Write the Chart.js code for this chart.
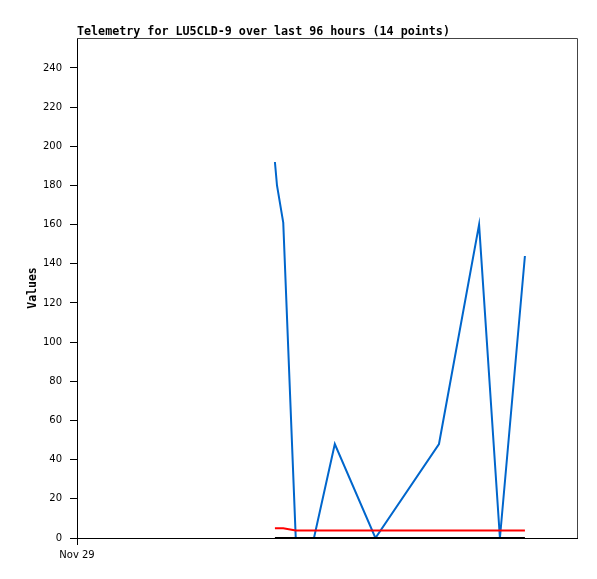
<!DOCTYPE html>
<html>
<head>
    <title>Telemetry</title>
    <style>
        body { margin: 0; background: #fff; }
        #wrap { width: 597px; height: 579px; }
    </style>
</head>
<body>
    <div id="wrap"><canvas id="telemetry" width="597" height="579"></canvas></div>

    <script src="https://cdn.jsdelivr.net/npm/chart.js@4.4.0/dist/chart.umd.min.js"></script>
    <script>
        // hours after Nov 29 00:00 for each sample
        const hours = [38.0, 38.4, 39.6, 42.0, 45.5, 49.5, 57.3, 69.5, 77.2, 81.2, 86.0];
        const blueVals = [192, 180, 161, 0, 0, 48, 0, 48, 160, 0, 144];
        const redVals = [5, 5, 5, 3.8, 3.8, 3.8, 3.8, 3.8, 3.8, 3.8, 3.8];
        const blackVals = [0, 0, 0, 0, 0, 0, 0, 0, 0, 0, 0];
        const yTicks = [0, 20, 40, 60, 80, 100, 120, 140, 160, 180, 200, 220, 240];
        const xTickLabel = "Nov 29";
        const titleText = "Telemetry for LU5CLD-9 over last 96 hours (14 points)";

        function pts(vals) {
            return hours.map((h, i) => ({ x: h, y: vals[i] }));
        }

        const frame = {
            id: "frame",
            afterDraw(chart) {
                const a = chart.chartArea, c = chart.ctx;
                c.save();
                c.strokeStyle = "#444";
                c.lineWidth = 1;
                c.beginPath();
                c.moveTo(a.left, a.top + 0.5);
                c.lineTo(a.right + 0.5, a.top + 0.5);
                c.lineTo(a.right + 0.5, a.bottom);
                c.stroke();
                c.fillStyle = "#000";
                c.font = "bold 11.7px 'DejaVu Sans Mono'";
                c.textBaseline = "alphabetic";
                c.fillText(titleText, a.left, a.top - 3);
                c.restore();
            }
        };

        const ctx = document.getElementById("telemetry").getContext("2d");
        new Chart(ctx, {
            type: "line",
            data: {
                datasets: [
                    { data: pts(blackVals), borderColor: "#000000", borderWidth: 2 },
                    { data: pts(redVals), borderColor: "#ff0000", borderWidth: 2 },
                    { data: pts(blueVals), borderColor: "#0066cc", borderWidth: 2 }
                ]
            },
            options: {
                responsive: false,
                animation: false,
                elements: { point: { radius: 0 }, line: { tension: 0 } },
                layout: { padding: { top: 38, right: 20, left: 0, bottom: 0 } },
                plugins: { legend: { display: false }, tooltip: { enabled: false } },
                scales: {
                    x: {
                        type: "linear",
                        min: 0,
                        max: 96,
                        afterBuildTicks: (s) => { s.ticks = [{ value: 0 }]; },
                        afterFit: (s) => { s.height = 41; },
                        ticks: {
                            callback: () => xTickLabel,
                            color: "#000",
                            font: { family: "DejaVu Sans", size: 10 },
                            maxRotation: 0,
                            padding: 4
                        },
                        grid: { drawOnChartArea: false, drawTicks: true, tickLength: 7, color: "#000" },
                        border: { color: "#000", width: 1 }
                    },
                    y: {
                        min: 0,
                        max: 255.3,
                        afterBuildTicks: (s) => { s.ticks = yTicks.map(v => ({ value: v })); },
                        afterFit: (s) => { s.width = 77; },
                        ticks: {
                            color: "#000",
                            font: { family: "DejaVu Sans", size: 10 },
                            padding: 8
                        },
                        title: {
                            display: true,
                            text: "Values",
                            color: "#000",
                            font: { family: "DejaVu Sans Mono", size: 11.5, weight: "bold" },
                            padding: { top: 26, bottom: 0 }
                        },
                        grid: { drawOnChartArea: false, drawTicks: true, tickLength: 7, color: "#000" },
                        border: { color: "#000", width: 1 }
                    }
                }
            },
            plugins: [frame]
        });
    </script>
</body>
</html>
